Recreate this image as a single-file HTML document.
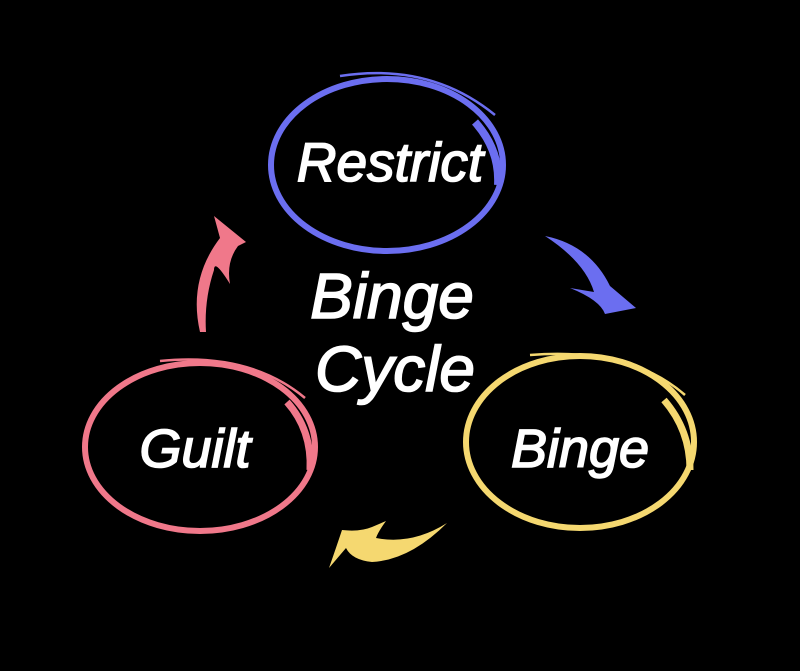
<!DOCTYPE html>
<html><head><style>
html,body{margin:0;padding:0;background:#000;}
svg{display:block}
text{font-family:"Liberation Sans",Arial,sans-serif;font-style:italic;fill:#fff;stroke:#fff;stroke-width:1.6}
</style></head><body>
<svg width="800" height="671" viewBox="0 0 800 671" xmlns="http://www.w3.org/2000/svg">
<rect width="800" height="671" fill="#000"/>
<g fill="none" stroke="#6b6ef0">
<ellipse cx="387" cy="165" rx="116" ry="86" stroke-width="6"/>
<path d="M340 76 Q430 62 495 115" stroke-width="2.5"/>
<path d="M475 122 Q500 150 498 185" stroke-width="8"/>
</g>
<g fill="none" stroke="#f0788a">
<ellipse cx="200" cy="447" rx="115" ry="84" stroke-width="6"/>
<path d="M160 361 Q250 352 305 398" stroke-width="2.5"/>
<path d="M287 402 Q312 430 310 470" stroke-width="7"/>
</g>
<g fill="none" stroke="#f5d870">
<ellipse cx="580" cy="442" rx="114" ry="86" stroke-width="6"/>
<path d="M530 355 Q630 347 685 395" stroke-width="2.5"/>
<path d="M664 400 Q690 430 690 470" stroke-width="7"/>
</g>
<path d="M200 332 Q188 280 220 238 L214 216 L246 242 L238 246 Q226 262 230 284 Q214 258 214 270 Q204 300 206 332 Z" fill="#f0788a"/>
<path d="M545 236 Q590 245 610 286 L636 308 L605 314 Q600 300 570 288 L594 292 Q585 262 545 236 Z" fill="#6b6ef0"/>
<path d="M447 523 Q410 560 372 562 Q352 560 346 548 L329 568 Q336 548 342 530 Q360 532 372 527 L386 521 Q378 532 376 538 Q412 545 447 523 Z" fill="#f5d870"/>
<text x="390" y="181" font-size="55" text-anchor="middle">Restrict</text>
<text x="195" y="467" font-size="54" text-anchor="middle">Guilt</text>
<text x="580" y="467" font-size="54" text-anchor="middle">Binge</text>
<text x="392" y="318" font-size="64" text-anchor="middle">Binge</text>
<text x="395" y="391" font-size="64" text-anchor="middle">Cycle</text>
</svg>
</body></html>
